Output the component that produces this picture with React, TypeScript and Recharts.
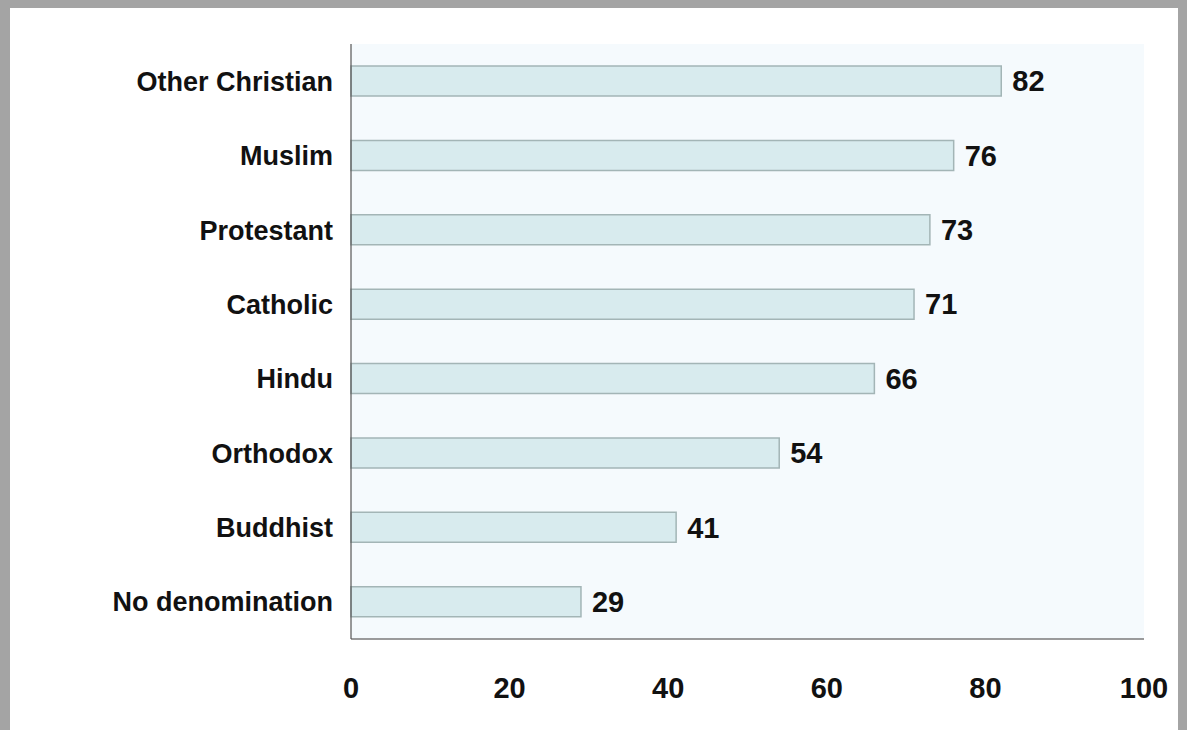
import React from 'react';
import { BarChart, Bar, XAxis, YAxis, CartesianGrid, LabelList } from 'recharts';

const categories = [
  'Other Christian',
  'Muslim',
  'Protestant',
  'Catholic',
  'Hindu',
  'Orthodox',
  'Buddhist',
  'No denomination',
];
const values = [82, 76, 73, 71, 66, 54, 41, 29];
const xTicks = [0, 20, 40, 60, 80, 100];

const data = categories.map((name, i) => ({ name, value: values[i] }));

const font = '"Liberation Sans", Arial, Helvetica, sans-serif';

export default function App() {
  return (
    <div style={{ position: 'absolute', left: 0, top: 0, width: 1187, height: 730, background: '#a4a4a4' }}>
      <div style={{ position: 'absolute', left: 10, top: 8, width: 1168, height: 722, background: '#ffffff' }} />
      <div style={{ position: 'absolute', left: 0, top: 0 }}>
        <BarChart
          width={1187}
          height={730}
          data={data}
          layout="vertical"
          margin={{ top: 44, right: 43, bottom: 11, left: 10 }}
          barCategoryGap={0}
        >
          <CartesianGrid horizontal={false} vertical={false} fill="#f5fafd" stroke="none" />
          <XAxis
            type="number"
            domain={[0, 100]}
            ticks={xTicks}
            height={80}
            tickLine={false}
            tickSize={0}
            tickMargin={38}
            axisLine={{ stroke: '#7a7a7a', strokeWidth: 1.5 }}
            tick={{ fill: '#111', fontSize: 29, fontWeight: 700, fontFamily: font }}
          />
          <YAxis
            type="category"
            dataKey="name"
            width={341}
            tickLine={false}
            tickSize={0}
            tickMargin={18}
            axisLine={{ stroke: '#555', strokeWidth: 1.2 }}
            tick={{ fill: '#111', fontSize: 27, fontWeight: 700, fontFamily: font }}
          />
          <Bar
            dataKey="value"
            barSize={30}
            fill="#d8ebee"
            stroke="#a3b5b6"
            strokeWidth={1.5}
            isAnimationActive={false}
          >
            <LabelList
              dataKey="value"
              position="right"
              offset={11}
              style={{ fill: '#111', fontSize: 29, fontWeight: 700, fontFamily: font }}
            />
          </Bar>
        </BarChart>
      </div>
    </div>
  );
}
